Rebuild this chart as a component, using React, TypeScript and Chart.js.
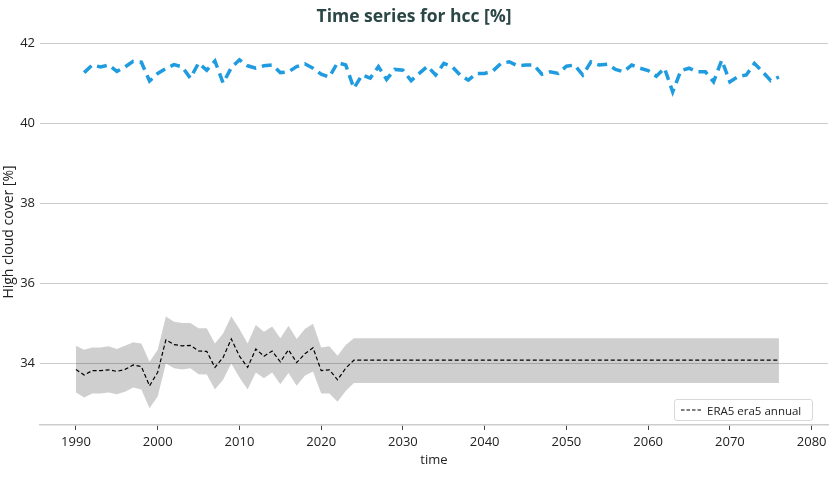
import React, { useEffect, useRef } from "react";
import { Chart, registerables } from "chart.js";

Chart.register(...registerables);

const FONT = "'Open Sans', 'Noto Sans', sans-serif";

// Model run (blue dashed), annual values from 1991
const modelStartYear = 1991;
const modelValues = [
  41.26, 41.45, 41.40, 41.45, 41.29, 41.40, 41.54, 41.52, 41.05, 41.24,
  41.36, 41.46, 41.40, 41.12, 41.50, 41.32, 41.55, 41.00, 41.38, 41.58,
  41.43, 41.37, 41.43, 41.45, 41.26, 41.28, 41.41, 41.48, 41.37, 41.22,
  41.15, 41.51, 41.45, 40.87, 41.20, 41.12, 41.41, 41.09, 41.34, 41.32,
  41.06, 41.24, 41.42, 41.20, 41.49, 41.41, 41.20, 41.07, 41.24, 41.24,
  41.30, 41.49, 41.53, 41.43, 41.45, 41.45, 41.22, 41.28, 41.24, 41.42,
  41.45, 41.20, 41.53, 41.45, 41.47, 41.34, 41.28, 41.45, 41.37, 41.31,
  41.17, 41.37, 40.78, 41.31, 41.37, 41.28, 41.28, 41.03, 41.57, 41.03,
  41.16, 41.20, 41.49, 41.28, 41.06, 41.15,
];

// ERA5 annual (black dashed) and its spread band, from 1990
const eraStartYear = 1990;
const eraMean = [
  33.84, 33.70, 33.81, 33.81, 33.83, 33.79, 33.84, 33.95, 33.91, 33.43,
  33.77, 34.58, 34.46, 34.43, 34.44, 34.30, 34.29, 33.89, 34.14, 34.60,
  34.17, 33.89, 34.35, 34.17, 34.30, 34.03, 34.33, 34.01, 34.23, 34.38,
  33.81, 33.83, 33.58, 33.87, 34.07, 34.07, 34.07, 34.07, 34.07, 34.07,
  34.07, 34.07, 34.07, 34.07, 34.07, 34.07, 34.07, 34.07, 34.07, 34.07,
  34.07, 34.07, 34.07, 34.07, 34.07, 34.07, 34.07, 34.07, 34.07, 34.07,
  34.07, 34.07, 34.07, 34.07, 34.07, 34.07, 34.07, 34.07, 34.07, 34.07,
  34.07, 34.07, 34.07, 34.07, 34.07, 34.07, 34.07, 34.07, 34.07, 34.07,
  34.07, 34.07, 34.07, 34.07, 34.07, 34.07, 34.07,
];
const eraUpper = [
  34.43, 34.33, 34.39, 34.39, 34.42, 34.35, 34.43, 34.52, 34.49, 34.03,
  34.33, 35.16, 35.03, 35.00, 35.00, 34.87, 34.87, 34.49, 34.74, 35.17,
  34.85, 34.49, 34.95, 34.78, 34.91, 34.62, 34.93, 34.60, 34.85, 34.98,
  34.39, 34.42, 34.18, 34.45, 34.62, 34.62, 34.62, 34.62, 34.62, 34.62,
  34.62, 34.62, 34.62, 34.62, 34.62, 34.62, 34.62, 34.62, 34.62, 34.62,
  34.62, 34.62, 34.62, 34.62, 34.62, 34.62, 34.62, 34.62, 34.62, 34.62,
  34.62, 34.62, 34.62, 34.62, 34.62, 34.62, 34.62, 34.62, 34.62, 34.62,
  34.62, 34.62, 34.62, 34.62, 34.62, 34.62, 34.62, 34.62, 34.62, 34.62,
  34.62, 34.62, 34.62, 34.62, 34.62, 34.62, 34.62,
];
const eraLower = [
  33.26, 33.14, 33.24, 33.24, 33.26, 33.22, 33.28, 33.39, 33.34, 32.87,
  33.16, 33.99, 33.87, 33.84, 33.87, 33.72, 33.71, 33.34, 33.58, 33.99,
  33.64, 33.34, 33.76, 33.62, 33.76, 33.47, 33.75, 33.43, 33.68, 33.79,
  33.24, 33.24, 33.03, 33.30, 33.50, 33.50, 33.50, 33.50, 33.50, 33.50,
  33.50, 33.50, 33.50, 33.50, 33.50, 33.50, 33.50, 33.50, 33.50, 33.50,
  33.50, 33.50, 33.50, 33.50, 33.50, 33.50, 33.50, 33.50, 33.50, 33.50,
  33.50, 33.50, 33.50, 33.50, 33.50, 33.50, 33.50, 33.50, 33.50, 33.50,
  33.50, 33.50, 33.50, 33.50, 33.50, 33.50, 33.50, 33.50, 33.50, 33.50,
  33.50, 33.50, 33.50, 33.50, 33.50, 33.50, 33.50,
];

const titleText = "Time series for hcc [%]";
const xTitle = "time";
const yTitle = "High cloud cover [%]";
const legendLabel = "ERA5 era5 annual";

const toPoints = (start: number, vals: number[]) =>
  vals.map((v, i) => ({ x: start + i, y: v }));

export default function App() {
  const ref = useRef<HTMLCanvasElement | null>(null);

  useEffect(() => {
    document.body.style.margin = "0";
    const canvas = ref.current;
    if (!canvas) return;
    const chart = new Chart(canvas, {
      type: "line",
      data: {
        datasets: [
          {
            label: "model",
            data: toPoints(modelStartYear, modelValues),
            borderColor: "#1f9be0",
            borderWidth: 3.5,
            borderDash: [10, 6],
            pointRadius: 0,
            fill: false,
            tension: 0,
          },
          {
            label: legendLabel,
            data: toPoints(eraStartYear, eraMean),
            borderColor: "#000000",
            borderWidth: 1.2,
            borderDash: [4, 2.5],
            pointRadius: 0,
            fill: false,
            tension: 0,
          },
          {
            label: "upper",
            data: toPoints(eraStartYear, eraUpper),
            borderWidth: 0,
            borderColor: "rgba(0,0,0,0)",
            backgroundColor: "rgba(0,0,0,0.19)",
            pointRadius: 0,
            fill: "+1",
            tension: 0,
          },
          {
            label: "lower",
            data: toPoints(eraStartYear, eraLower),
            borderWidth: 0,
            borderColor: "rgba(0,0,0,0)",
            pointRadius: 0,
            fill: false,
            tension: 0,
          },
        ],
      },
      options: {
        responsive: false,
        animation: false,
        events: [],
        layout: { padding: { top: 0, right: 10, bottom: 0, left: 0 } },
        plugins: {
          legend: { display: false },
          tooltip: { enabled: false },
          title: {
            display: true,
            text: titleText,
            color: "#2b4646",
            font: { family: FONT, size: 17.5, weight: "bold" },
            padding: { top: 7, bottom: 11 },
          },
        },
        scales: {
          x: {
            type: "linear",
            min: 1985.6,
            max: 2082,
            afterFit: (s: any) => {
              s.height = 53;
            },
            border: { display: true, color: "#cccccc", width: 1.5 },
            grid: {
              drawOnChartArea: false,
              drawTicks: true,
              tickLength: 5,
              tickColor: "#444444",
              tickWidth: 1,
            },
            ticks: {
              stepSize: 10,
              includeBounds: false,
              autoSkip: false,
              maxRotation: 0,
              padding: 4,
              color: "#222222",
              font: { family: FONT, size: 13 },
              callback: (v: any) => String(v),
            },
            title: {
              display: true,
              text: xTitle,
              color: "#222222",
              font: { family: FONT, size: 13 },
              padding: { top: 0, bottom: 10 },
            },
          },
          y: {
            type: "linear",
            min: 32.45,
            max: 42.1,
            afterFit: (s: any) => {
              s.width = 40;
            },
            border: { display: false },
            grid: { color: "#cccccc", lineWidth: 1, drawTicks: false },
            ticks: {
              stepSize: 2,
              includeBounds: false,
              padding: 5,
              color: "#222222",
              font: { family: FONT, size: 13 },
              callback: (v: any) => String(v),
            },
            title: {
              display: true,
              text: yTitle,
              color: "#222222",
              font: { family: FONT, size: 14 },
              padding: { top: 1, bottom: 0 },
            },
          },
        },
      },
    });
    return () => chart.destroy();
  }, []);

  return (
    <div style={{ position: "relative", width: 838, height: 478 }}>
      <canvas ref={ref} width={838} height={478} style={{ display: "block" }} />
      <div
        style={{
          position: "absolute",
          left: 674,
          top: 399,
          width: 139,
          height: 22,
          boxSizing: "border-box",
          border: "1px solid #d8d8d8",
          borderRadius: 3,
          background: "rgba(255,255,255,0.85)",
          display: "flex",
          alignItems: "center",
          fontFamily: FONT,
          fontSize: 11.5,
          color: "#222",
        }}
      >
        <svg width={28} height={10} style={{ marginLeft: 4, flex: "none" }}>
          <line x1={2} y1={5} x2={22} y2={5} stroke="#000" strokeWidth={1.2} strokeDasharray="3.5,2" />
        </svg>
        <span style={{ whiteSpace: "nowrap" }}>{legendLabel}</span>
      </div>
    </div>
  );
}
